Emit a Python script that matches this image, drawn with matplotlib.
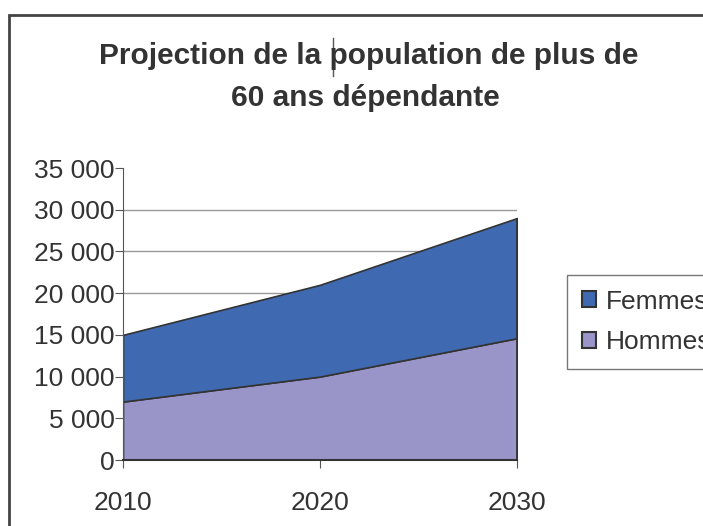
import matplotlib.pyplot as plt
from matplotlib.patches import Rectangle, Patch
from matplotlib.lines import Line2D
from matplotlib.ticker import FuncFormatter

years = [2010, 2020, 2030]
hommes = [7000, 10000, 14600]
femmes = [8000, 11000, 14400]
series_labels = ["Femmes", "Hommes"]
y_ticks = [0, 5000, 10000, 15000, 20000, 25000, 30000, 35000]

c_femmes = "#3F6AB1"
c_hommes = "#9A95C8"
edge = "#333333"
txt = "#333333"

plt.rcParams['font.family'] = ['Liberation Sans', 'DejaVu Sans']

fig = plt.figure(figsize=(7.03, 5.26), dpi=100)
ax = fig.add_axes([123 / 703, 1 - 460 / 526, (517 - 123) / 703, (460 - 168) / 526])

# grille derrière les aires, sans la ligne du haut
ax.hlines(y_ticks[1:-1], years[0], years[-1], color="#999999", lw=1, zorder=0)

ax.stackplot(years, hommes, femmes, colors=[c_hommes, c_femmes],
             edgecolor=edge, linewidth=1.2, zorder=2)
ax.vlines(years[-1], 0, hommes[-1] + femmes[-1], color=edge, lw=1.2, zorder=3)

ax.set_xlim(years[0], years[-1])
ax.set_ylim(0, 35000)
ax.set_xticks(years)
ax.set_yticks(y_ticks)
ax.yaxis.set_major_formatter(FuncFormatter(lambda v, p: f"{int(v):,}".replace(",", " ")))

for s in ["top", "right"]:
    ax.spines[s].set_visible(False)
ax.spines["left"].set_color("#555555")
ax.spines["bottom"].set_color("#333333")
ax.spines["bottom"].set_linewidth(1.5)
ax.tick_params(axis="both", direction="out", length=6, color="#555555",
               labelsize=19, labelcolor=txt)
ax.tick_params(axis="x", pad=16)
ax.tick_params(axis="y", pad=0)

fig.text(0.525, 1 - 56 / 526, "Projection de la population de plus de",
         ha="center", va="center", fontsize=21.5, fontweight="bold", color=txt)
fig.text(0.52, 1 - 98 / 526, "60 ans dépendante",
         ha="center", va="center", fontsize=21.5, fontweight="bold", color=txt)
# curseur de texte visible dans le titre
fig.add_artist(Line2D([333 / 703, 333 / 703], [1 - 38 / 526, 1 - 76 / 526],
                      transform=fig.transFigure, color="#555555", lw=1))

handles = [Patch(facecolor=c_femmes, edgecolor=edge, lw=1.5),
           Patch(facecolor=c_hommes, edgecolor=edge, lw=1.5)]
leg = fig.legend(handles, series_labels, loc="upper left",
                 bbox_to_anchor=(567 / 703, 1 - 275 / 526), borderaxespad=0,
                 fontsize=19, frameon=True, fancybox=False,
                 handlelength=0.55, handleheight=0.55,
                 handletextpad=0.35, borderpad=0.56, labelspacing=0.63)
leg.get_frame().set_edgecolor("#555555")
leg.get_frame().set_linewidth(1)
for t in leg.get_texts():
    t.set_color(txt)

fig.add_artist(Rectangle((9 / 703, -0.1), 1.2, 1 - 15 / 526 + 0.1,
                         transform=fig.transFigure, fill=False, lw=2, ec="#444444"))

fig.savefig("out.png", dpi=100)
